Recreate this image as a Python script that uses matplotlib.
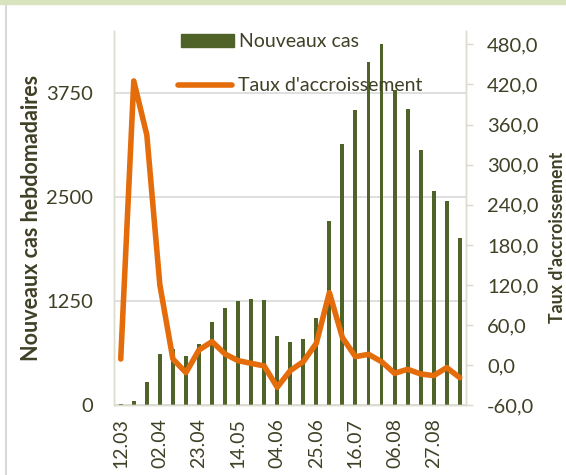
import numpy as np
import matplotlib
matplotlib.use("Agg")
import matplotlib.pyplot as plt
from matplotlib.lines import Line2D
from matplotlib.patches import Patch, Rectangle

plt.rcParams['font.family'] = ['Lato', 'DejaVu Sans']

# weekly data
weeks = ["12.03", "19.03", "26.03", "02.04", "09.04", "16.04", "23.04", "30.04",
         "07.05", "14.05", "21.05", "28.05", "04.06", "11.06", "18.06", "25.06",
         "02.07", "09.07", "16.07", "23.07", "30.07", "06.08", "13.08", "20.08",
         "27.08", "03.09", "10.09"]
new_cases = [12, 56, 276, 617, 673, 593, 733, 998, 1174, 1254, 1282, 1266, 829,
             757, 793, 1054, 2211, 3145, 3545, 4126, 4342, 3790, 3561, 3065,
             2572, 2452, 2015]
growth = [9.3, 425.3, 344.5, 120.1, 9.3, -11.1, 22.8, 35.3, 16.8, 6.8, 2.8, -1.1,
          -33.0, -8.1, 5.3, 32.8, 108.6, 41.3, 12.8, 16.3, 5.3, -12.1, -6.1, -13.1,
          -15.6, -3.6, -18.6]

left_ticks = [0, 1250, 2500, 3750]
right_ticks = [-60, 0, 60, 120, 180, 240, 300, 360, 420, 480]

bar_col = '#4F6228'
line_col = '#E46C0A'
txt_col = '#404026'
axis_col = '#DDDBCB'

fig = plt.figure(figsize=(5.66, 4.75), dpi=100)
ax = fig.add_axes([0.2018, 0.1467, 0.622, 0.788])
ax2 = ax.twinx()

x = np.arange(len(weeks))
ax.bar(x, new_cases, width=0.3, color=bar_col, zorder=2)
ax.set_xlim(-0.5, len(weeks) - 0.5)
ax.set_ylim(0, 4500)
ax.set_yticks(left_ticks)
ax.set_yticklabels([str(v) for v in left_ticks])
ax.yaxis.grid(True, color='#D9D9D9', linewidth=1.2, zorder=0)
ax.set_axisbelow(True)
ax.set_xticks(x[::3])
ax.set_xticklabels(weeks[::3], rotation=90)
ax.tick_params(axis='y', length=0, pad=15, labelsize=14.5, labelcolor=txt_col)
ax.tick_params(axis='x', length=0, pad=9, labelsize=14, labelcolor=txt_col)
ax.set_ylabel('Nouveaux cas hebdomadaires', fontsize=15.5, fontweight='bold',
              color=txt_col, labelpad=3)

ax2.plot(x, growth, color=line_col, linewidth=4, solid_capstyle='round',
         solid_joinstyle='round', zorder=3)
ax2.set_ylim(-60, 500)
ax2.set_yticks(right_ticks)
ax2.set_yticklabels([f"{v:.1f}".replace('.', ',') for v in right_ticks])
ax2.tick_params(axis='y', length=5, width=1, color=axis_col, pad=10,
                labelsize=14.5, labelcolor=txt_col)
ax2.set_ylabel("Taux d'accroissement", fontsize=12.8, fontweight='bold',
               color=txt_col)
ax2.yaxis.set_label_coords(1.235, 0.45)

for a in (ax, ax2):
    a.spines['top'].set_visible(False)
    for s in ('left', 'right', 'bottom'):
        a.spines[s].set_color(axis_col)
        a.spines[s].set_linewidth(1)

leg1 = ax2.legend(handles=[Patch(color=bar_col, label='Nouveaux cas')],
                  loc='upper left', bbox_to_anchor=(0.168, 1.015), frameon=False,
                  fontsize=14, handlelength=2.7, handleheight=0.65,
                  handletextpad=0.3, labelcolor=txt_col, borderaxespad=0)
ax2.add_artist(leg1)
ax2.legend(handles=[Line2D([], [], color=line_col, linewidth=4,
                           solid_capstyle='round', label="Taux d'accroissement")],
           loc='upper left', bbox_to_anchor=(0.16, 0.897), frameon=False,
           fontsize=14, handlelength=2.75, handletextpad=0.3,
           labelcolor=txt_col, borderaxespad=0)

# frame decorations
fig.patches.append(Rectangle((0, 0.992), 1, 0.008, transform=fig.transFigure,
                             color='#D7E4BD', zorder=0))
fig.lines.append(Line2D([0.011, 0.011], [0, 0.99], transform=fig.transFigure,
                        color='#D9D9D9', linewidth=1.5))

fig.savefig('out.png', dpi=100)
